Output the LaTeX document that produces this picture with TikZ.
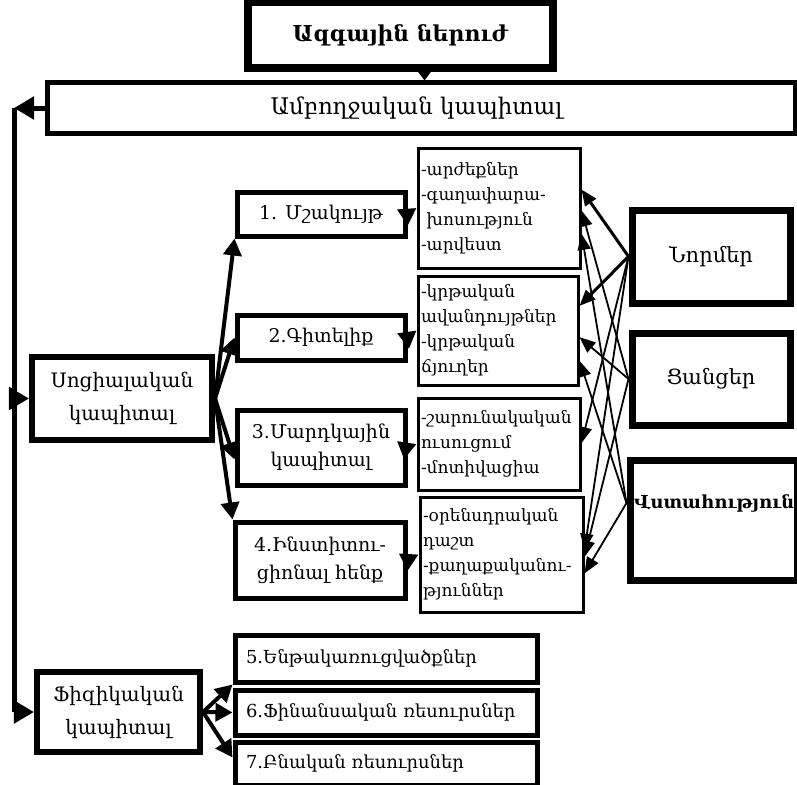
\documentclass[tikz,border=0pt]{standalone}
\usepackage{fontspec}
\setmainfont{DejaVu Serif}
\usetikzlibrary{arrows.meta,calc}
\begin{document}
\begin{tikzpicture}[x=1bp,y=-1bp,
  box/.style={draw, line width=#1, inner sep=0pt, align=center},
  listbox/.style={draw, line width=3bp, inner xsep=2bp, inner ysep=0pt, align=left, font=\fontsize{17}{25}\selectfont},
  bigarr/.style={line width=5bp, -{Triangle[length=20bp,width=22bp]}},
  medarr/.style={line width=4bp, -{Triangle[length=17bp,width=18bp]}},
  linkarr/.style={line width=#1, -{Triangle[length=16bp,width=13bp]}},
]
\useasboundingbox (0,0) rectangle (797,785);

% top boxes
\node[box=8bp, minimum width=305bp, minimum height=66bp, font=\bfseries\fontsize{22}{26}\selectfont] (top) at (400.5,35) {Ազգային ներուժ};
\node[box=5bp, minimum width=747bp, minimum height=50bp, font=\fontsize{23}{26}\selectfont] (whole) at (421.5,108) {Ամբողջական կապիտալ\hspace*{10bp}};

% left column
\node[box=6bp, minimum width=180bp, minimum height=83bp, font=\fontsize{20}{33}\selectfont] (soc) at (122,398.5) {Սոցիալական\\կապիտալ};
\node[box=6bp, minimum width=163bp, minimum height=80bp, font=\fontsize{20}{33}\selectfont] (phys) at (118.5,712) {Ֆիզիկական\\կապիտալ};

% middle column
\node[box=5bp, minimum width=168bp, minimum height=44bp, font=\fontsize{19}{28}\selectfont] (b1) at (321,214) {1. Մշակույթ};
\node[box=5bp, minimum width=168bp, minimum height=45bp, font=\fontsize{19}{28}\selectfont] (b2) at (321,337.5) {2.Գիտելիք};
\node[box=5bp, minimum width=168bp, minimum height=75bp, font=\fontsize{19}{28}\selectfont] (b3) at (321,447.5) {3.Մարդկային\\կապիտալ};
\node[box=5bp, minimum width=170bp, minimum height=76bp, font=\fontsize{19}{28}\selectfont] (b4) at (320,560) {4.Ինստիտու-\\ցիոնալ հենք};

% list boxes
\node[listbox, minimum width=162bp, minimum height=120bp, text width=156bp] (t1) at (499,208) {-արժեքներ\\-գաղափարա-\\\ խոսություն\\-արվեստ};
\node[listbox, minimum width=160bp, minimum height=109bp, text width=154bp] (t2) at (498,330.5) {-կրթական\\ավանդույթներ\\-կրթական\\ճյուղեր};
\node[listbox, minimum width=162bp, minimum height=92bp, text width=156bp] (t3) at (499,444) {-շարունակական\\ուսուցում\\-մոտիվացիա};
\node[listbox, minimum width=163bp, minimum height=115bp, text width=157bp] (t4) at (501.5,554.5) {-օրենսդրական\\դաշտ\\-քաղաքականու-\\թյուններ};

% right column
\node[box=7bp, minimum width=158bp, minimum height=93bp, font=\fontsize{21}{26}\selectfont] (norm) at (711,256.5) {Նորմեր};
\node[box=7bp, minimum width=158bp, minimum height=92bp, font=\fontsize{21}{26}\selectfont] (net) at (711,379) {Ցանցեր};
\node[box=7bp, minimum width=167bp, minimum height=120bp] (trust) at (713.5,520) {};
\node[anchor=west, inner sep=0pt, font=\bfseries\fontsize{18}{22}\selectfont] (trusttxt) at (634,503) {Վստահություն};

% resources
\node[box=5bp, minimum width=302bp, minimum height=47bp, text width=280bp, align=left, font=\fontsize{18}{22}\selectfont] (r5) at (386,658.5) {5.Ենթակառուցվածքներ};
\node[box=5bp, minimum width=302bp, minimum height=45bp, text width=280bp, align=left, font=\fontsize{18}{22}\selectfont] (r6) at (386,712.5) {6.Ֆինանսական ռեսուրսներ};
\node[box=5bp, minimum width=302bp, minimum height=43bp, text width=280bp, align=left, font=\fontsize{18}{22}\selectfont] (r7) at (386,763.5) {7.Բնական ռեսուրսներ};

% connectors
\draw[line width=4bp, -{Triangle[length=14bp,width=20bp]}] ($(top.south)+(24,-4)$) -- ($(whole.north)+(3,0)$);
\coordinate (vl) at (14,108);
\coordinate (vs) at (14,398.5);
\coordinate (vb) at (14,712);
\draw[bigarr] (whole.west) -- (vl);
\draw[line width=5bp] (vl) -- (vb);
\draw[bigarr] (vb) -- (phys.west);
\draw[bigarr] (vs) -- (soc.west);

\draw[medarr] (soc.east) -- (b1.south west);
\draw[medarr] (soc.east) -- (b2.west);
\draw[medarr] (soc.east) -- ($(b3.west)+(0,12)$);
\draw[medarr] (soc.east) -- (b4.north west);

\draw[medarr] (b1.east) -- (t1.west);
\draw[medarr] (b2.east) -- (t2.west);
\draw[medarr] (b3.east) -- (t3.west);
\draw[medarr] (b4.east) -- (t4.west);

\draw[medarr] (phys.east) -- (r5.south west);
\draw[medarr] (phys.east) -- (r6.west);
\draw[medarr] (phys.east) -- ($(r7.west)+(0,-6)$);

\draw[linkarr=3bp] (norm.west) -- ($(t1.north east)!0.35!(t1.south east)$);
\draw[linkarr=3bp] (norm.west) -- ($(t2.north east)!0.28!(t2.south east)$);
\draw[linkarr=1.8bp] (norm.west) -- ($(t3.north east)!0.49!(t3.south east)$);
\draw[linkarr=1.8bp] (norm.west) -- ($(t4.north east)!0.46!(t4.south east)$);
\draw[linkarr=1.8bp] (net.west) -- ($(t1.north east)!0.52!(t1.south east)$);
\draw[linkarr=1.8bp] (net.west) -- ($(t2.north east)!0.56!(t2.south east)$);
\draw[linkarr=1.8bp] (net.west) -- ($(t4.north east)!0.52!(t4.south east)$);
\draw[linkarr=1.8bp] ($(trust.west)+(0,-17)$) -- ($(t1.north east)!0.71!(t1.south east)$);
\draw[linkarr=1.8bp] ($(trust.west)+(0,-17)$) -- ($(t2.north east)!0.77!(t2.south east)$);
\draw[linkarr=1.8bp] ($(trust.west)+(0,-17)$) -- ($(t4.north east)!0.66!(t4.south east)$);
\end{tikzpicture}
\end{document}
